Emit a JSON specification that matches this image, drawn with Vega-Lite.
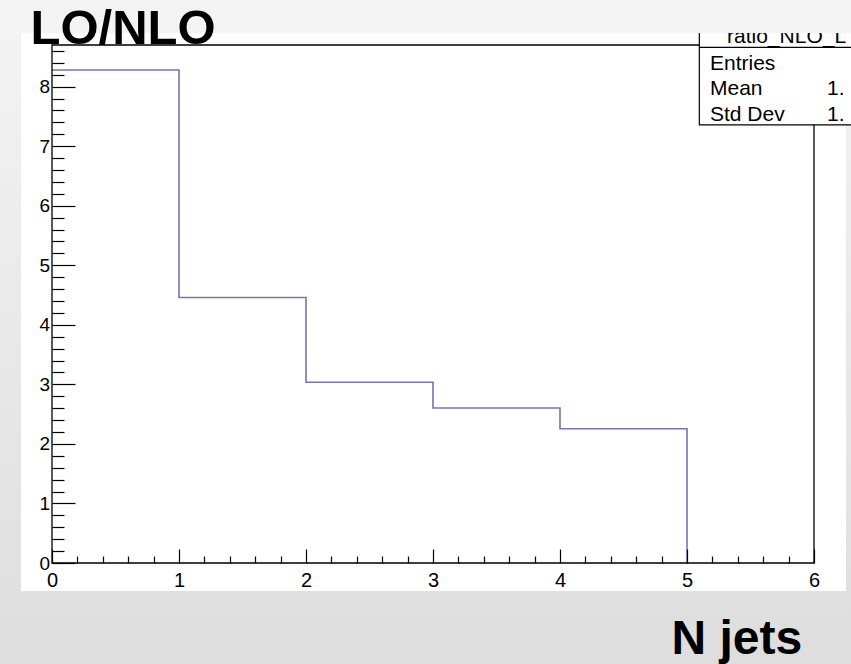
{
  "$schema": "https://vega.github.io/schema/vega-lite/v6.json",
  "width": 762,
  "height": 518,
  "autosize": {"type": "none"},
  "padding": {"left": 52, "top": 45, "right": 37, "bottom": 101},
  "background": "#e8e8e8",
  "config": {"view": {"stroke": null}, "font": "Liberation Sans"},
  "resolve": {"axis": {"x": "independent", "y": "independent"}},
  "layer": [
    {
      "data": {"values": [{}]},
      "mark": {"type": "rect", "clip": false, "fill": {"gradient": "linear", "x1": 0, "y1": 0, "x2": 0, "y2": 1, "stops": [{"offset": 0, "color": "#f5f5f5"}, {"offset": 1, "color": "#dddddd"}]}},
      "encoding": {
        "x": {"datum": -1, "scale": {"domain": [0, 6], "nice": false}, "axis": null},
        "x2": {"datum": 7},
        "y": {"datum": -2, "scale": {"domain": [0, 8.7], "nice": false}, "axis": null},
        "y2": {"datum": 10}
      }
    },
    {
      "data": {"values": [{}]},
      "mark": {"type": "rect", "clip": false, "fill": "#ffffff"},
      "encoding": {
        "x": {"datum": -0.244, "axis": null},
        "x2": {"datum": 6.252},
        "y": {"datum": -0.47, "axis": null},
        "y2": {"datum": 8.901}
      }
    },
    {
      "data": {"values": [
        {"nj": 0, "ratio": 8.28},
        {"nj": 1, "ratio": 4.46},
        {"nj": 2, "ratio": 3.035},
        {"nj": 3, "ratio": 2.603},
        {"nj": 4, "ratio": 2.256},
        {"nj": 5, "ratio": 0}
      ]},
      "mark": {"type": "line", "interpolate": "step-after", "color": "#7474b6", "strokeWidth": 1.6, "clip": false},
      "encoding": {
        "x": {
          "field": "nj", "type": "quantitative",
          "scale": {"domain": [0, 6], "nice": false},
          "axis": {
            "orient": "bottom",
            "title": "N jets",
            "titleFont": "Liberation Sans", "titleFontSize": 48, "titleFontWeight": "bold", "titleColor": "#000000",
            "titleAlign": "left", "titleBaseline": "alphabetic", "titleX": 619, "titleY": 90, "titleAngle": 0,
            "values": [0, 1, 2, 3, 4, 5, 6],
            "labelOverlap": false, "labelFlush": false, "labelBound": false,
            "labelFont": "Liberation Sans", "labelFontSize": 20, "labelColor": "#000000",
            "labelBaseline": "top", "labelPadding": 21,
            "tickSize": -14,
            "tickColor": "#000000", "tickWidth": 1.2,
            "domain": false, "grid": false, "zindex": 1
          }
        },
        "y": {
          "field": "ratio", "type": "quantitative",
          "scale": {"domain": [0, 8.7], "nice": false},
          "axis": {
            "orient": "left",
            "title": "LO/NLO",
            "titleFont": "Liberation Sans", "titleFontSize": 49, "titleFontWeight": "bold", "titleColor": "#000000",
            "titleAlign": "left", "titleBaseline": "alphabetic", "titleX": -22, "titleY": -2, "titleAngle": 0,
            "values": [0, 1, 2, 3, 4, 5, 6, 7, 8],
            "labelOverlap": false, "labelFlush": false, "labelBound": false,
            "labelFont": "Liberation Sans", "labelFontSize": 19, "labelColor": "#000000",
            "labelBaseline": "middle", "labelPadding": 25.5,
            "tickSize": -23,
            "tickColor": "#000000", "tickWidth": 1.2,
            "domain": false, "grid": false, "zindex": 1
          }
        }
      }
    },
    {
      "data": {"values": [{}]},
      "mark": {"type": "rect", "clip": false, "fillOpacity": 0, "fill": "#ffffff", "stroke": "#000000", "strokeWidth": 1.3},
      "encoding": {
        "x": {
          "datum": 0,
          "axis": {
            "orient": "bottom", "title": null, "labels": false, "domain": false, "grid": false,
            "values": [0.2,0.4,0.6,0.8,1.2,1.4,1.6,1.8,2.2,2.4,2.6,2.8,3.2,3.4,3.6,3.8,4.2,4.4,4.6,4.8,5.2,5.4,5.6,5.8],
            "tickSize": -7, "tickColor": "#000000", "tickWidth": 1.2, "zindex": 1
          }
        },
        "x2": {"datum": 6},
        "y": {
          "datum": 0,
          "axis": {
            "orient": "left", "title": null, "labels": false, "domain": false, "grid": false,
            "values": [0.2,0.4,0.6,0.8,1.2,1.4,1.6,1.8,2.2,2.4,2.6,2.8,3.2,3.4,3.6,3.8,4.2,4.4,4.6,4.8,5.2,5.4,5.6,5.8,6.2,6.4,6.6,6.8,7.2,7.4,7.6,7.8,8.2,8.4,8.6],
            "tickSize": -12, "tickColor": "#000000", "tickWidth": 1.2, "zindex": 1
          }
        },
        "y2": {"datum": 8.7}
      }
    },
    {
      "data": {"values": [{}]},
      "mark": {"type": "rect", "clip": false, "fill": "#ffffff", "stroke": "#000000", "strokeWidth": 1.2},
      "encoding": {
        "x": {"datum": 5.097, "axis": null},
        "x2": {"datum": 6.8},
        "y": {"datum": 7.36, "axis": null},
        "y2": {"datum": 9.6}
      }
    },
    {
      "data": {"values": [{}]},
      "mark": {"type": "rule", "clip": false, "color": "#000000", "strokeWidth": 1.2},
      "encoding": {
        "x": {"datum": 5.097, "axis": null},
        "x2": {"datum": 6.8},
        "y": {"datum": 8.66, "axis": null}
      }
    },
    {
      "data": {"values": [{}]},
      "mark": {"type": "text", "clip": false, "text": "ratio_NLO_L", "align": "left", "baseline": "alphabetic", "fontSize": 21, "font": "Liberation Sans", "color": "#000000"},
      "encoding": {"x": {"datum": 5.315, "axis": null}, "y": {"datum": 8.74, "axis": null}}
    },
    {
      "data": {"values": [{}]},
      "mark": {"type": "text", "clip": false, "text": "Entries", "align": "left", "baseline": "alphabetic", "fontSize": 21, "font": "Liberation Sans", "color": "#000000"},
      "encoding": {"x": {"datum": 5.181, "axis": null}, "y": {"datum": 8.28, "axis": null}}
    },
    {
      "data": {"values": [{}]},
      "mark": {"type": "text", "clip": false, "text": "Mean", "align": "left", "baseline": "alphabetic", "fontSize": 21, "font": "Liberation Sans", "color": "#000000"},
      "encoding": {"x": {"datum": 5.181, "axis": null}, "y": {"datum": 7.86, "axis": null}}
    },
    {
      "data": {"values": [{}]},
      "mark": {"type": "text", "clip": false, "text": "Std Dev", "align": "left", "baseline": "alphabetic", "fontSize": 21, "font": "Liberation Sans", "color": "#000000"},
      "encoding": {"x": {"datum": 5.181, "axis": null}, "y": {"datum": 7.424, "axis": null}}
    },
    {
      "data": {"values": [{}]},
      "mark": {"type": "text", "clip": false, "text": "1.", "align": "left", "baseline": "alphabetic", "fontSize": 21, "font": "Liberation Sans", "color": "#000000"},
      "encoding": {"x": {"datum": 6.102, "axis": null}, "y": {"datum": 7.86, "axis": null}}
    },
    {
      "data": {"values": [{}]},
      "mark": {"type": "text", "clip": false, "text": "1.", "align": "left", "baseline": "alphabetic", "fontSize": 21, "font": "Liberation Sans", "color": "#000000"},
      "encoding": {"x": {"datum": 6.102, "axis": null}, "y": {"datum": 7.424, "axis": null}}
    },
    {
      "data": {"values": [{}]},
      "mark": {"type": "rect", "clip": false, "fill": "#f3f3f3"},
      "encoding": {
        "x": {"datum": -1, "axis": null},
        "x2": {"datum": 7},
        "y": {"datum": 8.901, "axis": null},
        "y2": {"datum": 11}
      }
    }
  ]
}
